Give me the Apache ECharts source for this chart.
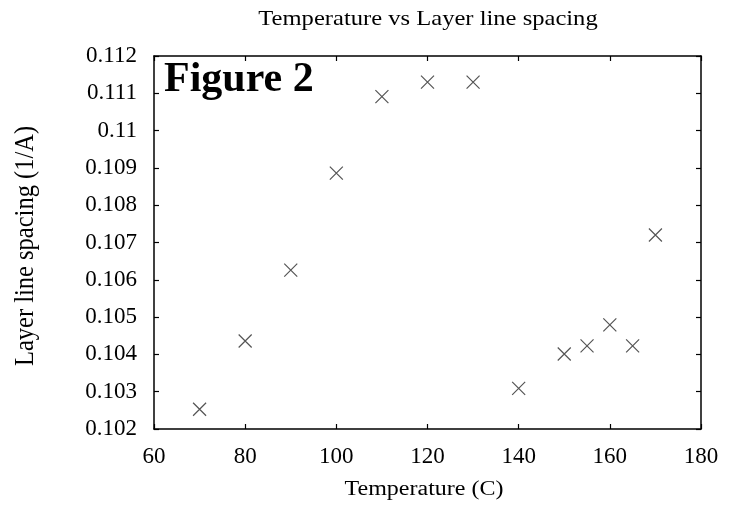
<!DOCTYPE html>
<html>
<head>
<meta charset="utf-8">
<script src="https://cdn.jsdelivr.net/npm/echarts@6/dist/echarts.min.js"></script>
<style>html,body{margin:0;padding:0;background:#fff}#c{width:738px;height:506px}</style>
</head>
<body>
<div id="c"></div>
<script>
var temperatures = [70, 80, 90, 100, 110, 120, 130, 140, 150, 155, 160, 165, 170];
var spacings = [0.10253, 0.10436, 0.10626, 0.10886, 0.11091, 0.11130, 0.11130, 0.10309, 0.10401, 0.10423, 0.10479, 0.10423, 0.10720];
var titleText = 'Temperature vs Layer line spacing';
var xName = 'Temperature (C)';
var yName = 'Layer line spacing (1/A)';
var figureLabel = 'Figure 2';

var points = temperatures.map(function (t, i) { return [t, spacings[i]]; });
var serif = 'Liberation Serif';
var chart = echarts.init(document.getElementById('c'), null, {renderer: 'canvas'});
var axisLine = {show: true, lineStyle: {color: '#000', width: 1.5}};
var axisTick = {show: true, inside: true, length: 5, lineStyle: {color: '#000', width: 1.2}};
chart.setOption({
  animation: false,
  backgroundColor: '#fff',
  grid: {left: 154, right: 37, top: 56, bottom: 77},
  xAxis: [{
    type: 'value', min: 60, max: 180, interval: 20,
    axisLine: axisLine, axisTick: axisTick,
    axisLabel: {fontFamily: serif, fontSize: 23, color: '#000', margin: 16},
    splitLine: {show: false}
  }, {
    type: 'value', min: 60, max: 180, interval: 20, position: 'top',
    axisLine: axisLine, axisTick: axisTick, axisLabel: {show: false}, splitLine: {show: false}
  }],
  yAxis: [{
    type: 'value', min: 0.102, max: 0.112, interval: 0.001,
    axisLine: axisLine, axisTick: axisTick,
    axisLabel: {fontFamily: serif, fontSize: 23, color: '#000', margin: 17,
      formatter: function (v) { return String(parseFloat(v.toFixed(3))); }},
    splitLine: {show: false}
  }, {
    type: 'value', min: 0.102, max: 0.112, interval: 0.001, position: 'right',
    axisLine: axisLine, axisTick: axisTick, axisLabel: {show: false}, splitLine: {show: false}
  }],
  graphic: [{
    type: 'text', x: 428, y: 19, scaleX: 1.17,
    style: {text: titleText, font: '21px "Liberation Serif"', fill: '#000', align: 'center', verticalAlign: 'middle'}
  }, {
    type: 'text', x: 424, y: 490, scaleX: 1.2,
    style: {text: xName, font: '20px "Liberation Serif"', fill: '#000', align: 'center', verticalAlign: 'middle'}
  }, {
    type: 'text', x: 26, y: 246, rotation: Math.PI / 2, scaleY: 1.1,
    style: {text: yName, font: '24.5px "Liberation Serif"', fill: '#000', align: 'center', verticalAlign: 'middle'}
  }, {
    type: 'text', x: 164, y: 80,
    style: {text: figureLabel, font: 'bold 42px "Liberation Serif"', fill: '#000', align: 'left', verticalAlign: 'middle'}
  }],
  series: [{
    type: 'scatter', xAxisIndex: 0, yAxisIndex: 0,
    data: points,
    symbol: 'path://M0,0L10,10M10,0L0,10',
    symbolSize: 13,
    itemStyle: {color: 'rgba(0,0,0,0)', borderColor: '#555', borderWidth: 1.2, opacity: 1}
  }]
});
</script>
</body>
</html>
